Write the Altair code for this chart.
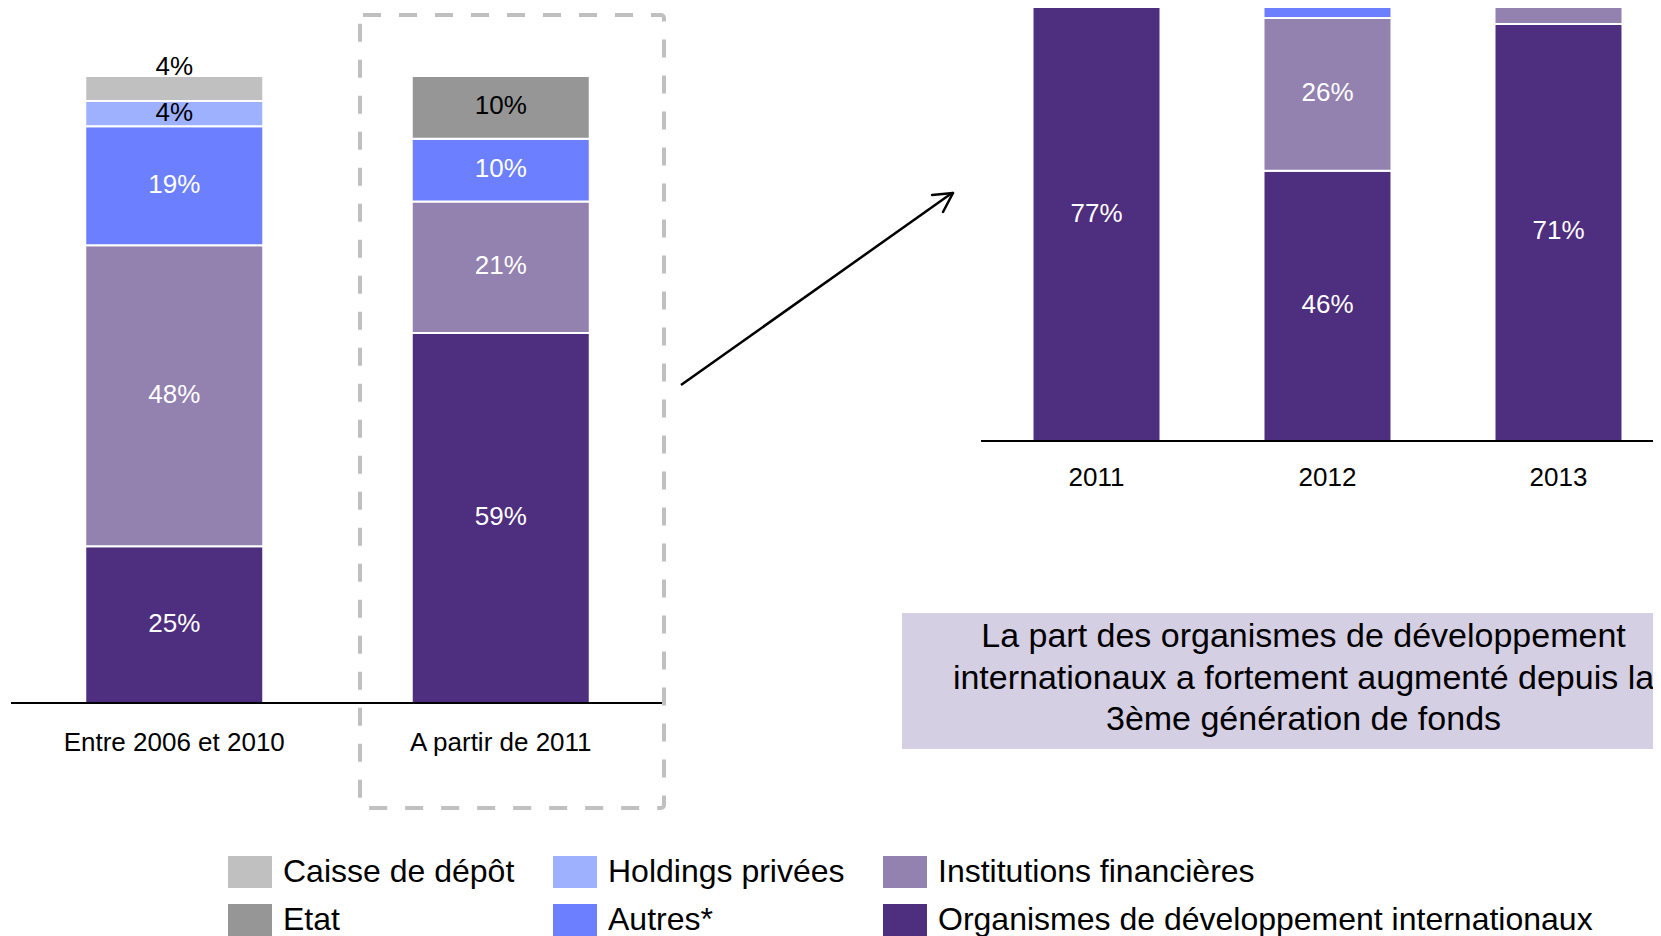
import altair as alt
import pandas as pd

FONT = "Liberation Sans"

# ---- data -------------------------------------------------------------
stack_order = ["Organismes de développement internationaux", "Institutions financières",
               "Autres*", "Holdings privées", "Etat", "Caisse de dépôt"]

left_categories = ["Entre 2006 et 2010", "A partir de 2011"]
left_odi = [25, 59]
left_if = [48, 21]
left_autres = [19, 10]
left_holdings = [4, 0]
left_etat = [0, 10]
left_caisse = [4, 0]

right_categories = ["2011", "2012", "2013"]
right_odi = [77, 46, 71]
right_if = [0, 26, 16]       # 2013 part runs out of the frame (estimate)
right_autres = [0, 14, 0]    # 2012 part runs out of the frame (estimate)
right_holdings = [0, 0, 0]
right_etat = [0, 0, 0]
right_caisse = [0, 0, 0]

legend_order = ["Caisse de dépôt", "Holdings privées", "Institutions financières",
                "Etat", "Autres*", "Organismes de développement internationaux"]
legend_colors = ["#c0c0c0", "#9db1ff", "#9381b0", "#969696", "#6b7fff", "#4e2e7e"]
dark_label_series = ["Holdings privées", "Etat", "Caisse de dépôt"]

callout_lines = ["La part des organismes de développement",
                 "internationaux a fortement augmenté depuis la",
                 "3ème génération de fonds"]


def build(categories, cols):
    rows = []
    for i, c in enumerate(categories):
        start = 0
        for s, col in zip(stack_order, cols):
            v = col[i]
            if v <= 0:
                continue
            rows.append({"cat": c, "serie": s, "value": v, "start": start,
                         "end": start + v, "mid": start + v / 2,
                         "label": f"{v}%"})
            start += v
    return pd.DataFrame(rows)


left_df = build(left_categories, [left_odi, left_if, left_autres, left_holdings, left_etat, left_caisse])
right_df = build(right_categories, [right_odi, right_if, right_autres, right_holdings, right_etat, right_caisse])

color_enc = alt.Color(
    "serie:N",
    scale=alt.Scale(domain=legend_order, range=legend_colors),
    legend=alt.Legend(
        title=None, orient="none", legendX=220, legendY=842, columns=3,
        direction="horizontal",
        symbolType="M-1,-0.727L1,-0.727L1,0.727L-1,0.727Z", symbolSize=1936,
        symbolStrokeWidth=0, symbolOpacity=1,
        labelFont=FONT, labelFontSize=32, labelColor="black", labelOffset=11,
        labelLimit=800, columnPadding=38, rowPadding=10, padding=0, offset=0,
    ),
)

label_color = alt.condition(
    alt.FieldOneOfPredicate(field="serie", oneOf=dark_label_series),
    alt.value("black"), alt.value("white"))


def panel(df, categories, xrange, yrange, bar_size, base_x, cat_label_y, top_label, max_mid):
    xs = alt.Scale(domain=categories, range=xrange, paddingInner=0, paddingOuter=0)
    ys = alt.Scale(domain=[0, 100], range=yrange, nice=False, zero=True)
    X = alt.X("cat:N", scale=xs, axis=None)

    bars = alt.Chart(df).mark_bar(size=bar_size, stroke="white", strokeWidth=2).encode(
        x=X,
        y=alt.Y("start:Q", scale=ys, axis=None),
        y2="end:Q",
        color=color_enc,
    )
    is_top = (df["serie"] == "Caisse de dépôt") & top_label
    inside = df[~is_top]
    inside = inside[inside["mid"] < max_mid]
    labels = alt.Chart(inside).mark_text(font=FONT, fontSize=26, baseline="middle", dy=-1).encode(
        x=X, y=alt.Y("mid:Q", scale=ys, axis=None), text="label:N", color=label_color)
    layers = [bars, labels]
    top = df[is_top]
    if len(top):
        layers.append(alt.Chart(top).mark_text(font=FONT, fontSize=26, baseline="alphabetic",
                                               dy=-1, color="black").encode(
            x=X, y=alt.Y("end:Q", scale=ys, axis=None), text="label:N"))
    base = alt.Chart(pd.DataFrame({"v": [0]})).mark_rule(color="black", strokeWidth=2).encode(
        y=alt.Y("v:Q", scale=ys, axis=None), x=alt.value(base_x[0]), x2=alt.value(base_x[1]))
    cats = alt.Chart(pd.DataFrame({"cat": categories})).mark_text(
        font=FONT, fontSize=26, color="black", baseline="middle").encode(
        x=X, y=alt.value(cat_label_y), text="cat:N")
    layers += [base, cats]
    return alt.layer(*layers)


left = panel(left_df, left_categories, [3, 656], [695, 68], 178, (3, 656), 735, True, 200)
right = panel(right_df, right_categories, [973, 1666], [433, -154.5], 128, (973, 1660), 470, False, 74)

one = pd.DataFrame({"a": [0]})
dashed = alt.Chart(one).mark_rect(filled=False, stroke="#c0c0c0", strokeWidth=4,
                                  strokeDash=[18, 18], cornerRadius=3).encode(
    x=alt.value(352), x2=alt.value(656), y=alt.value(7), y2=alt.value(800))

arrow_line = alt.Chart(one).mark_rule(color="black", strokeWidth=2.5).encode(
    x=alt.value(673), y=alt.value(377), x2=alt.value(944), y2=alt.value(185))
arrow_w1 = alt.Chart(one).mark_rule(color="black", strokeWidth=2.5, strokeCap="round").encode(
    x=alt.value(924), y=alt.value(187), x2=alt.value(945), y2=alt.value(185))
arrow_w2 = alt.Chart(one).mark_rule(color="black", strokeWidth=2.5, strokeCap="round").encode(
    x=alt.value(935), y=alt.value(204), x2=alt.value(945), y2=alt.value(185))

box = alt.Chart(one).mark_rect(color="#d5cfe3").encode(
    x=alt.value(894), x2=alt.value(1697), y=alt.value(605), y2=alt.value(741))
box_text = alt.Chart(one).mark_text(
    text=callout_lines, font=FONT, fontSize=34, lineHeight=41.5, align="center",
    baseline="middle", color="black").encode(x=alt.value(1295.5), y=alt.value(629))

chart = alt.layer(left, right, dashed, arrow_line, arrow_w1, arrow_w2, box, box_text).resolve_scale(
    x="independent", y="independent", color="shared"
).properties(
    width=1645, height=928, padding=0,
    autosize=alt.AutoSizeParams(type="none"),
).configure_view(stroke=None)

chart.save("out.html", embed_options={"renderer": "svg", "actions": False})
